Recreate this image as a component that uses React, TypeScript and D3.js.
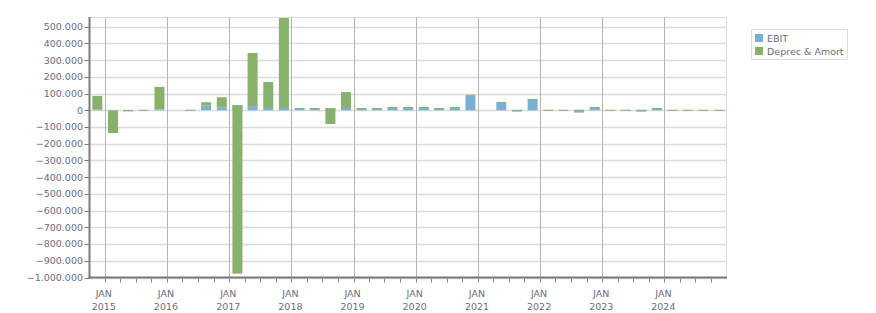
import React from "react";
import * as d3 from "d3";

// ---- data (values in currency units) ----
const periods: string[] = [
  "2014-11-18", "2015-02-18", "2015-05-18", "2015-08-18",
  "2015-11-18", "2016-02-18", "2016-05-18", "2016-08-18",
  "2016-11-18", "2017-02-18", "2017-05-18", "2017-08-18",
  "2017-11-18", "2018-02-18", "2018-05-18", "2018-08-18",
  "2018-11-18", "2019-02-18", "2019-05-18", "2019-08-18",
  "2019-11-18", "2020-02-18", "2020-05-18", "2020-08-18",
  "2020-11-18", "2021-02-18", "2021-05-18", "2021-08-18",
  "2021-11-18", "2022-02-18", "2022-05-18", "2022-08-18",
  "2022-11-18", "2023-02-18", "2023-05-18", "2023-08-18",
  "2023-11-18", "2024-02-18", "2024-05-18", "2024-08-18",
  "2024-11-18",
];

const ebit: number[] = [
  4000, 0, -6000, 0,
  4000, 0, 0, 28000,
  18000, 30000, 25000, 14000,
  14000, 8000, 8000, 12000,
  14000, 8000, 10000, 16000,
  16000, 16000, 10000, 16000,
  88000, 0, 46000, -8000,
  64000, 0, 0, -14000,
  16000, 0, 0, -8000,
  10000, 0, 0, 0,
  0,
];

const deprecAmort: number[] = [
  82000, -136000, 2000, 3000,
  136000, 0, 3000, 20000,
  60000, -1007000, 318000, 155000,
  538000, 6000, 6000, -94000,
  95000, 6000, 4000, 4000,
  4000, 4000, 4000, 4000,
  5000, 0, 4000, 3000,
  4000, 3000, 3000, 3000,
  4000, 3000, 3000, 3000,
  4000, 3000, 3000, 3000,
  3000,
];

const seriesNames: string[] = ["EBIT", "Deprec & Amort"];
const yTickValues: number[] = [
  500000, 400000, 300000, 200000, 100000, 0, -100000, -200000, -300000,
  -400000, -500000, -600000, -700000, -800000, -900000, -1000000,
];

// ---- styling / layout ----
const W = 876;
const H = 313;
const left = 89.5;
const right = 726;
const top = 17;
const bottom = 277.5;
const BLUE = "#78b1d5";
const GREEN = "#88b16a";
const TEXT = "#6c6c82";
const FONT = "'DejaVu Sans', Verdana, sans-serif";

const locale = d3.formatLocale({
  decimal: ",",
  thousands: ".",
  grouping: [3],
  currency: ["", ""],
});
const fmt = locale.format(",.0f");

export default function App() {
  const parse = d3.utcParse("%Y-%m-%d");
  const dates = periods.map((p) => parse(p) as Date);

  const x = d3
    .scaleUtc()
    .domain([new Date(Date.UTC(2014, 9, 3)), new Date(Date.UTC(2024, 11, 28))])
    .range([left, right]);
  const y = d3.scaleLinear().domain([-1000000, 558000]).range([bottom, top]);

  const barW = 10;
  const qTicks = d3.utcMonth.every(3)!.range(x.domain()[0], x.domain()[1]);
  const yearTicks = qTicks.filter((d) => d.getUTCMonth() === 0);

  const bars = dates.map((d, i) => {
    const e = ebit[i];
    const da = deprecAmort[i];
    const base = e > 0 ? e : 0;
    return { d, e, da, base };
  });

  const rectY = (a: number, b: number) => {
    const y0 = y(Math.max(a, b));
    const y1 = y(Math.min(a, b));
    return { y: y0, h: Math.max(0, y1 - y0) };
  };

  return (
    <svg
      width={W}
      height={H}
      style={{ position: "absolute", left: 0, top: 0, background: "#fff" }}
      fontFamily={FONT}
    >
      {/* horizontal grid */}
      {yTickValues.map((v) => (
        <line
          key={"hg" + v}
          x1={left}
          x2={right}
          y1={Math.round(y(v)) + 0.5}
          y2={Math.round(y(v)) + 0.5}
          stroke="#dcdcdc"
          strokeWidth={1.3}
        />
      ))}
      {/* top / right border */}
      <line x1={left} x2={right} y1={top + 0.5} y2={top + 0.5} stroke="#dcdcdc" strokeWidth={1} />
      <line x1={right + 0.5} x2={right + 0.5} y1={top} y2={bottom} stroke="#dcdcdc" strokeWidth={1} />
      {/* vertical year grid */}
      {yearTicks.map((t) => (
        <line
          key={"vg" + t.toISOString()}
          x1={Math.round(x(t)) + 0.5}
          x2={Math.round(x(t)) + 0.5}
          y1={top}
          y2={bottom}
          stroke="#b5b5b5"
          strokeWidth={1}
        />
      ))}
      {/* bars */}
      {bars.map((b, i) => {
        const cx = x(b.d);
        const r1 = rectY(0, b.e);
        const r2 = rectY(b.base, b.base + b.da);
        return (
          <g key={"b" + i}>
            {r1.h > 0 && (
              <rect x={cx - barW / 2} y={r1.y} width={barW} height={r1.h} fill={BLUE} />
            )}
            {r2.h > 0 && (
              <rect x={cx - barW / 2} y={r2.y} width={barW} height={Math.max(r2.h, 1)} fill={GREEN} />
            )}
          </g>
        );
      })}
      {/* y axis */}
      <line x1={left} x2={left} y1={top} y2={bottom + 1} stroke="#7a7a7a" strokeWidth={2} />
      {yTickValues.map((v) => (
        <g key={"yt" + v}>
          <line
            x1={left - 5}
            x2={left}
            y1={Math.round(y(v)) + 0.5}
            y2={Math.round(y(v)) + 0.5}
            stroke="#7a7a7a"
            strokeWidth={1}
          />
          <text
            x={83}
            y={y(v)}
            dy="0.36em"
            textAnchor="end"
            fontSize={9.5}
            fill={TEXT}
          >
            {fmt(v)}
          </text>
        </g>
      ))}
      {/* x axis */}
      <line x1={left - 1} x2={right + 1} y1={bottom} y2={bottom} stroke="#7a7a7a" strokeWidth={2} />
      {qTicks.map((t) => (
        <line
          key={"xt" + t.toISOString()}
          x1={Math.round(x(t)) + 0.5}
          x2={Math.round(x(t)) + 0.5}
          y1={bottom + 1}
          y2={bottom + 5}
          stroke="#8a8a8a"
          strokeWidth={1}
        />
      ))}
      {yearTicks.map((t) => (
        <g key={"xl" + t.toISOString()}>
          <text x={x(t) - 1} y={297} textAnchor="middle" fontSize={9.5} fill={TEXT}>
            JAN
          </text>
          <text x={x(t) - 1} y={310} textAnchor="middle" fontSize={9.5} fill={TEXT}>
            {d3.utcFormat("%Y")(t)}
          </text>
        </g>
      ))}
      {/* legend */}
      <rect x={751.5} y={29.5} width={96} height={30} fill="#fff" stroke="#dddddd" strokeWidth={1} />
      {seriesNames.map((n, i) => (
        <g key={"lg" + n}>
          <rect x={755} y={34 + i * 13} width={8} height={8} fill={i === 0 ? BLUE : GREEN} />
          <text x={767} y={42 + i * 13} fontSize={9.5} fill={TEXT}>
            {n}
          </text>
        </g>
      ))}
    </svg>
  );
}
